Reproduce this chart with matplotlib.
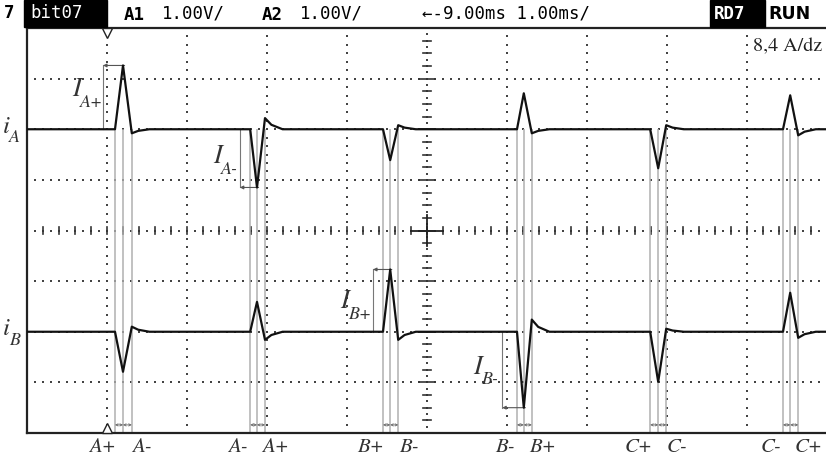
import numpy as np
import matplotlib
matplotlib.use('Agg')
import matplotlib.pyplot as plt
from matplotlib.patches import Rectangle

# switching events, time in ms from the left edge of the screen (1 ms/div)
t_start = [1.10, 2.79, 4.45, 6.125, 7.79, 9.45]
t_peak = [1.20, 2.875, 4.54, 6.21, 7.89, 9.54]
t_end = [1.31, 2.975, 4.64, 6.31, 7.99, 9.64]
# current spikes in divisions (8,4 A/dz) relative to the trace baseline
ia_peak = [1.26, -1.15, -0.61, 0.71, -0.77, 0.67]
ia_over = [-0.08, 0.22, 0.08, -0.08, 0.08, -0.12]
ib_peak = [-0.79, 0.59, 1.23, -1.50, -0.99, 0.77]
ib_over = [0.10, -0.16, -0.16, 0.24, 0.06, -0.12]
labels_left = ['A+', 'A-', 'B+', 'B-', 'C+', 'C-']
labels_right = ['A-', 'A+', 'B-', 'B+', 'C-', 'C+']
ia_base, ib_base = 2.0, -2.0

# peak annotations: (event index, trace, subscript)
peak_notes = [(0, 'A', 'A+'), (1, 'A', 'A-'), (2, 'B', 'B+'), (3, 'B', 'B-')]


def build_trace(peaks, overs, base):
    t, y = [0.0], [base]
    for t0, tp, t1, pk, ov in zip(t_start, t_peak, t_end, peaks, overs):
        t += [t0, tp, t1, t1 + 0.08, t1 + 0.22]
        y += [base, base + pk, base + ov, base + ov * 0.4, base]
    t.append(10.0)
    y.append(base)
    return np.array(t), np.array(y)


W, H = 826, 458
fig = plt.figure(figsize=(W / 100, H / 100), dpi=100)
ax = fig.add_axes([27 / W, 25 / H, 800 / W, 405 / H])
ax.set_xlim(0, 10)
ax.set_ylim(-4, 4)
ax.set_xticks([])
ax.set_yticks([])
ax.spines['right'].set_visible(False)
for s in ['left', 'top', 'bottom']:
    ax.spines[s].set_linewidth(1.6)
    ax.spines[s].set_color('#222222')

dot = dict(ls='none', marker='s', ms=1.6, color='#444444', mew=0)
# dotted graticule
xs = np.arange(0, 10.001, 0.1)
for gy in [-3, -2, -1, 1, 2, 3]:
    ax.plot(xs, np.full_like(xs, gy), **dot)
ys = np.arange(-4, 4.001, 1 / 6)
for gx in [1, 2, 3, 4, 6, 7, 8, 9]:
    ax.plot(np.full_like(ys, gx), ys, **dot)

# centre axes with tick marks
ax.plot(xs, np.zeros_like(xs), **dot)
for tx in np.arange(0.2, 10, 0.2):
    ax.plot([tx, tx], [-0.07, 0.07], color='#333333', lw=1.2)
ys2 = np.arange(-4, 4.001, 0.125)
ax.plot(np.full_like(ys2, 5), ys2, **dot)
for ty in np.arange(-3.75, 4, 0.25):
    half = 0.1 if abs(ty - round(ty)) < 1e-6 else 0.05
    ax.plot([5 - half, 5 + half], [ty, ty], color='#333333', lw=1.2)
ax.plot([4.8, 5.2], [0, 0], color='#222222', lw=1.3)
ax.plot([5, 5], [-0.3, 0.3], color='#222222', lw=1.3)

# grey event lines and small interval arrows
for t0, tp, t1 in zip(t_start, t_peak, t_end):
    ax.vlines([t0, tp, t1], -4, ia_base, color='#b0b0b0', lw=1.1, zorder=2)
    for a, b in [(t0, tp), (tp, t1)]:
        ax.annotate('', xy=(a, -3.84), xytext=(b, -3.84),
                    arrowprops=dict(arrowstyle='<->', color='#666666', lw=0.6,
                                    mutation_scale=4, shrinkA=0, shrinkB=0))

# traces
ta, ya = build_trace(ia_peak, ia_over, ia_base)
tb, yb = build_trace(ib_peak, ib_over, ib_base)
ax.plot(ta, ya, color='#111111', lw=1.6, zorder=4)
ax.plot(tb, yb, color='#111111', lw=1.6, zorder=4)

# peak annotations
serif = dict(family='STIXGeneral', style='italic', color='#333333')
note_x = [0.95, 2.66, 4.325, 5.94]
label_pos = [(0.56, 2.78), (2.33, 1.45), (3.91, -1.41), (5.58, -2.70)]
for (i, tr, sub), nx, (lx, ly) in zip(peak_notes, note_x, label_pos):
    base = ia_base if tr == 'A' else ib_base
    pk = base + (ia_peak[i] if tr == 'A' else ib_peak[i])
    ax.plot([nx, nx], [base, pk], color='#777777', lw=0.8, zorder=3)
    ax.annotate('', xy=(nx, pk), xytext=(t_peak[i] + 0.02, pk),
                arrowprops=dict(arrowstyle='-|>', color='#555555', lw=0.8,
                                mutation_scale=5, shrinkA=0, shrinkB=0))
    ax.text(lx, ly, 'I', fontsize=19, ha='left', va='center', **serif)
    ax.text(lx + 0.1, ly - 0.25, sub, fontsize=13, ha='left', va='center', **serif)

# channel labels and scale
for base, let in [(ia_base, 'A'), (ib_base, 'B')]:
    ax.text(-0.30, base + 0.05, 'i', fontsize=18, ha='left', va='center',
            clip_on=False, **serif)
    ax.text(-0.22, base - 0.17, let, fontsize=13, ha='left', va='center',
            clip_on=False, **serif)
ax.text(9.94, 3.63, '8,4 A/dz', fontsize=14.5, family='STIXGeneral',
        color='#222222', ha='right', va='center')

# event labels under the screen
for t0, t1, l1, l2 in zip(t_start, t_end, labels_left, labels_right):
    ax.text(t0 - 0.15, -4.27, l1, fontsize=15, ha='center', va='center',
            clip_on=False, **serif)
    ax.text(t1 + 0.13, -4.27, l2, fontsize=15, ha='center', va='center',
            clip_on=False, **serif)

# trigger markers
ax.plot([1.0], [3.9], marker='v', ms=7, mfc='white', mec='#222222', mew=1,
        clip_on=False, zorder=6)
ax.plot([1.0], [-3.9], marker='^', ms=7, mfc='white', mec='#222222', mew=1,
        clip_on=False, zorder=6)


# scope header
def px(x, y):
    return x / W, 1 - y / H


fig.patches.append(Rectangle(px(24, 27), 83 / W, 27 / H, transform=fig.transFigure,
                             color='black', zorder=0))
fig.patches.append(Rectangle(px(710, 27), 55 / W, 27 / H, transform=fig.transFigure,
                             color='black', zorder=0))
mono = dict(family='DejaVu Sans Mono', va='center', fontsize=12.5)
fig.text(*px(4, 13), '7', color='black', fontweight='bold', **mono)
fig.text(*px(30, 13), 'bit07', color='white', **mono)
fig.text(*px(124, 15), 'A1', color='black', fontweight='bold', **mono)
fig.text(*px(162, 14), '1.00V/', color='black', **mono)
fig.text(*px(262, 15), 'A2', color='black', fontweight='bold', **mono)
fig.text(*px(300, 14), '1.00V/', color='black', **mono)
fig.text(*px(422, 14), '←-9.00ms 1.00ms/', color='black', **mono)
fig.text(*px(714, 14), 'RD7', color='white', fontweight='bold', **mono)
fig.text(*px(768, 14), 'RUN', color='black', fontweight='bold',
         family='DejaVu Sans', va='center', fontsize=12.5)

fig.savefig('out.png', dpi=100, facecolor='white')
